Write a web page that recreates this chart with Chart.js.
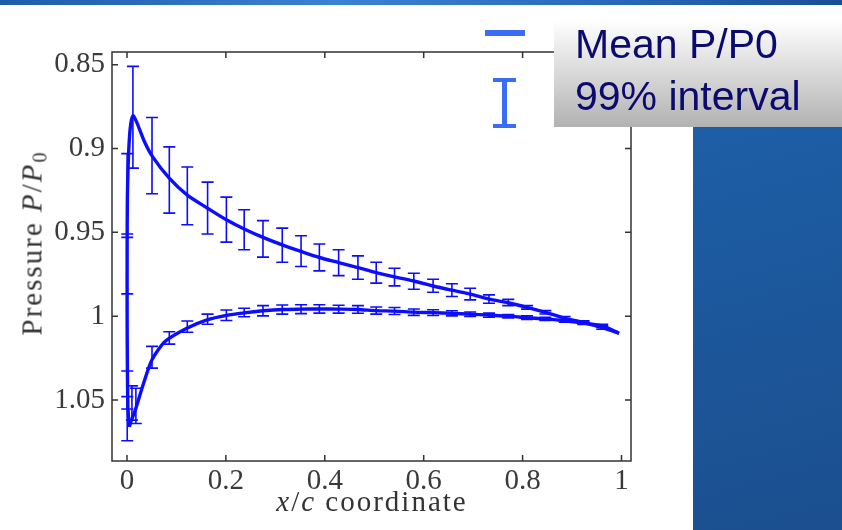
<!DOCTYPE html>
<html>
<head>
<meta charset="utf-8">
<script src="https://cdn.jsdelivr.net/npm/chart.js@4.4.1/dist/chart.umd.min.js"></script>
<style>
    html, body { margin: 0; padding: 0; background: #fff; }
    #wrap { position: relative; width: 842px; height: 530px; overflow: hidden; }
    #chart { position: absolute; left: 0; top: 0; }
    .topbar { position: absolute; left: 0; top: 0; width: 842px; height: 5px;
        background: linear-gradient(90deg, #1d5ca8, #3c82d2 40%, #2a6bbb 70%, #1a4f97); }
    .panel { position: absolute; left: 693px; top: 127px; width: 149px; height: 403px;
        background: linear-gradient(165deg, #1d5ea5, #1b4f8f); }
    .legbox { position: absolute; left: 554px; top: 20px; width: 288px; height: 107px;
        background: linear-gradient(#ffffff, #b2b2b2); }
    .legtext { position: absolute; left: 575px; font-family: "Liberation Sans", Arial, sans-serif;
        font-size: 41px; line-height: 41px; color: #0b0b6e; white-space: nowrap; }
    .sym { position: absolute; background: #3a6cf6; }
    .title { position: absolute; font-family: "Liberation Serif", serif; font-size: 29px;
        line-height: 29px; color: #333; white-space: nowrap; letter-spacing: 2px; }
    .title sub { font-size: 0.7em; vertical-align: -0.25em; line-height: 0; }
</style>
</head>
<body>
<div id="wrap">
    <canvas id="chart" width="842" height="530"></canvas>
    <div class="topbar"></div>
    <div class="panel"></div>
    <div class="legbox"></div>
    <div class="legtext" style="top:24px">Mean P/P0</div>
    <div class="legtext" style="top:76px">99% interval</div>
    <div class="sym" style="left:485px; top:30px; width:40px; height:6px"></div>
    <div class="sym" style="left:493px; top:78px; width:23px; height:4px"></div>
    <div class="sym" style="left:502px; top:78px; width:5px; height:50px"></div>
    <div class="sym" style="left:493px; top:124px; width:23px; height:4px"></div>
    <div class="title" id="ytitle" style="left:32px; top:243px; transform: translate(-50%, -50%) rotate(-90deg)">Pressure <i>P</i>/<i>P</i><sub>0</sub></div>
    <div class="title" id="xtitle" style="left:372px; top:487px; transform: translateX(-50%)"><i>x</i>/<i>c</i> coordinate</div>
</div>
<script>
// Axis ticks
const xTicks = [0, 0.2, 0.4, 0.6, 0.8, 1];
const xTickLabels = ['0', '0.2', '0.4', '0.6', '0.8', '1'];
const yTicks = [0.85, 0.9, 0.95, 1, 1.05];
const yTickLabels = ['0.85', '0.9', '0.95', '1', '1.05'];

// Mean P/P0, upper surface (starts at the leading edge stagnation point)
const upperX = [0.0045, 0.002, 0.0008, 0.0003, 0.0003, 0.0008, 0.003, 0.0065, 0.012, 0.02, 0.034, 0.051,
    0.085, 0.122, 0.163, 0.201, 0.237, 0.275, 0.314, 0.352, 0.389, 0.428, 0.467, 0.504, 0.541, 0.58,
    0.619, 0.657, 0.694, 0.732, 0.771, 0.809, 0.846, 0.885, 0.923, 0.961, 0.995];
const upperY = [1.066, 1.055, 1.03, 1.0, 0.96, 0.93, 0.905, 0.888, 0.8804, 0.8845, 0.895, 0.9045,
    0.9175, 0.9278, 0.9356, 0.9425, 0.948, 0.953, 0.9575, 0.9614, 0.965, 0.968, 0.971, 0.974, 0.9766, 0.979,
    0.982, 0.9845, 0.9868, 0.9898, 0.992, 0.9947, 0.9977, 1.0012, 1.0038, 1.0068, 1.0102];

// Mean P/P0, lower surface
const lowerX = [0.0045, 0.009, 0.0168, 0.0336, 0.0506, 0.0775, 0.121, 0.162, 0.201, 0.237, 0.275, 0.314,
    0.352, 0.389, 0.428, 0.467, 0.504, 0.541, 0.58, 0.619, 0.657, 0.694, 0.732, 0.771, 0.809, 0.846,
    0.885, 0.923, 0.961, 0.995];
const lowerY = [1.066, 1.062, 1.056, 1.040, 1.026, 1.015, 1.0072, 1.0022, 0.9995, 0.998, 0.9968, 0.996,
    0.9958, 0.9957, 0.9958, 0.996, 0.9967, 0.997, 0.9976, 0.9979, 0.9983, 0.9988, 0.9994, 1.0, 1.0009, 1.0016,
    1.0027, 1.004, 1.0058, 1.0102];

// 99% interval, upper surface
const upperBarX = [0.012, 0.0506, 0.0856, 0.122, 0.163, 0.201, 0.237, 0.275, 0.314, 0.352, 0.389, 0.428,
    0.467, 0.504, 0.541, 0.58, 0.619, 0.657, 0.694, 0.732, 0.771, 0.809, 0.846, 0.885, 0.923, 0.961];
const upperBarLo = [0.851, 0.8815, 0.899, 0.911, 0.92, 0.929, 0.9365, 0.943, 0.9475, 0.952, 0.9569, 0.9604,
    0.964, 0.9678, 0.9714, 0.9744, 0.978, 0.9807, 0.9833, 0.9873, 0.99, 0.9937, 0.9967, 1.0002, 1.0028, 1.0058];
const upperBarHi = [0.9117, 0.927, 0.9385, 0.9455, 0.951, 0.9558, 0.9604, 0.9648, 0.9678, 0.9704, 0.973, 0.9758,
    0.978, 0.9803, 0.9819, 0.9839, 0.9857, 0.9883, 0.9903, 0.9923, 0.9937, 0.9958, 0.9987, 1.0022, 1.0048, 1.0078];

// 99% interval, leading edge and lower surface
const lowerBarX = [0.0005, 0.0005, 0.0005, 0.0005, 0.01, 0.018, 0.0506, 0.0856, 0.122, 0.163, 0.201, 0.237,
    0.275, 0.314, 0.352, 0.389, 0.428, 0.467, 0.504, 0.541, 0.58, 0.619, 0.657, 0.694, 0.732, 0.771,
    0.809, 0.846, 0.885, 0.923, 0.961];
const lowerBarLo = [0.903, 0.953, 1.0327, 1.048, 1.0416, 1.043, 1.018, 1.0093, 1.0029, 0.9988, 0.9963, 0.9953,
    0.9937, 0.9933, 0.9932, 0.9932, 0.9935, 0.9937, 0.9945, 0.9948, 0.9957, 0.9962, 0.9968, 0.9975, 0.9982, 0.999,
    0.9998, 1.0006, 1.0018, 1.003, 1.0048];
const lowerBarHi = [0.951, 0.9867, 1.0554, 1.0743, 1.062, 1.064, 1.031, 1.0167, 1.0096, 1.0048, 1.0026, 1.0003,
    0.9998, 0.9988, 0.9985, 0.9982, 0.9982, 0.9983, 0.9988, 0.999, 0.9995, 0.9996, 0.9998, 1.0001, 1.0006, 1.001,
    1.002, 1.0026, 1.0036, 1.005, 1.0068];

const curveColor = 'rgb(12, 12, 255)';
const tickFont = { family: '"Liberation Serif", serif', size: 29 };

function toPoints(xs, ys) {
    return xs.map((x, i) => ({ x: x, y: ys[i] }));
}

// Error bars drawn from the arrays through the chart scales
const errorBars = {
    id: 'errorBars',
    afterDatasetsDraw(chart) {
        const { ctx, scales: { x, y } } = chart;
        const sets = [[upperBarX, upperBarLo, upperBarHi], [lowerBarX, lowerBarLo, lowerBarHi]];
        ctx.save();
        ctx.strokeStyle = curveColor;
        ctx.lineWidth = 1.6;
        sets.forEach(([xs, lo, hi]) => {
            xs.forEach((v, i) => {
                const px = x.getPixelForValue(v);
                const p1 = y.getPixelForValue(lo[i]);
                const p2 = y.getPixelForValue(hi[i]);
                ctx.beginPath();
                ctx.moveTo(px, p1); ctx.lineTo(px, p2);
                ctx.moveTo(px - 6, p1); ctx.lineTo(px + 6, p1);
                ctx.moveTo(px - 6, p2); ctx.lineTo(px + 6, p2);
                ctx.stroke();
            });
        });
        ctx.restore();
    }
};

// Box frame with inward ticks on all four sides
const frame = {
    id: 'frame',
    afterDraw(chart) {
        const { ctx, chartArea: a, scales: { x, y } } = chart;
        ctx.save();
        ctx.strokeStyle = '#333';
        ctx.lineWidth = 1.5;
        ctx.strokeRect(a.left, a.top, a.right - a.left, a.bottom - a.top);
        ctx.beginPath();
        xTicks.forEach(v => {
            const px = x.getPixelForValue(v);
            ctx.moveTo(px, a.bottom); ctx.lineTo(px, a.bottom - 6);
            ctx.moveTo(px, a.top); ctx.lineTo(px, a.top + 6);
        });
        yTicks.forEach(v => {
            const py = y.getPixelForValue(v);
            ctx.moveTo(a.left, py); ctx.lineTo(a.left + 6, py);
            ctx.moveTo(a.right, py); ctx.lineTo(a.right - 6, py);
        });
        ctx.stroke();
        ctx.restore();
    }
};

new Chart(document.getElementById('chart'), {
    type: 'line',
    data: {
        datasets: [{
            label: 'Mean P/P0 upper',
            data: toPoints(upperX, upperY),
            borderColor: curveColor,
            borderWidth: 3.4,
            pointRadius: 0,
            tension: 0.25,
            fill: false
        }, {
            label: 'Mean P/P0 lower',
            data: toPoints(lowerX, lowerY),
            borderColor: curveColor,
            borderWidth: 3.4,
            pointRadius: 0,
            tension: 0.25,
            fill: false
        }]
    },
    options: {
        responsive: false,
        animation: false,
        events: [],
        layout: { padding: { top: 52, right: 211, left: 0, bottom: 0 } },
        plugins: {
            legend: { display: false },
            tooltip: { enabled: false }
        },
        scales: {
            x: {
                type: 'linear',
                min: -0.0303,
                max: 1.0192,
                grid: { display: false, drawTicks: false },
                border: { display: false },
                afterBuildTicks: s => { s.ticks = xTicks.map(v => ({ value: v })); },
                afterFit: s => { s.height = 69; },
                ticks: {
                    font: tickFont,
                    color: '#3a3a3a',
                    padding: 3,
                    maxRotation: 0,
                    callback: (v, i) => xTickLabels[i]
                }
            },
            y: {
                type: 'linear',
                reverse: true,
                min: 0.8424,
                max: 1.0864,
                grid: { display: false, drawTicks: false },
                border: { display: false },
                afterBuildTicks: s => { s.ticks = yTicks.map(v => ({ value: v })); },
                afterFit: s => { s.width = 112; },
                ticks: {
                    font: tickFont,
                    color: '#3a3a3a',
                    padding: 7,
                    callback: (v, i) => yTickLabels[i]
                }
            }
        }
    },
    plugins: [errorBars, frame]
});
</script>
</body>
</html>
